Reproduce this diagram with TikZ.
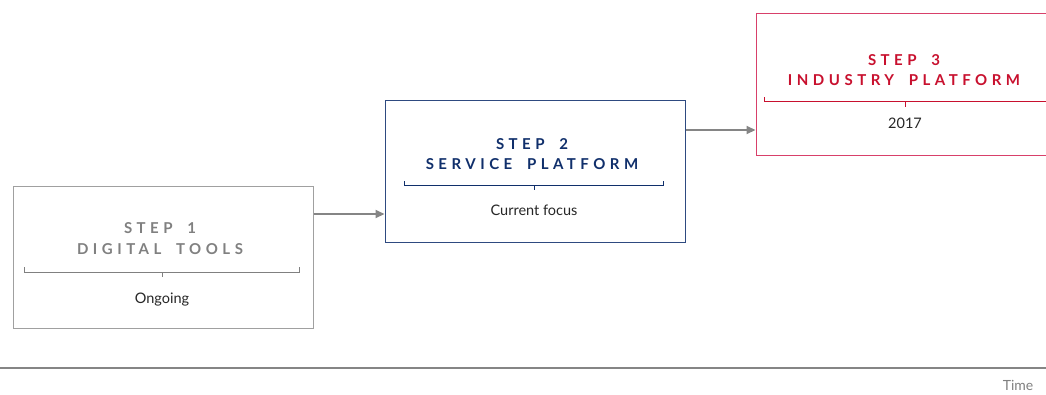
\documentclass[tikz,border=0pt]{standalone}
\usepackage{fontspec}
\setmainfont{Lato}
\newfontfamily\titlefont[LetterSpace=30,WordSpace=1.8]{Lato Bold}
\usetikzlibrary{arrows.meta}
\definecolor{gA}{HTML}{A0A0A0}
\definecolor{gT}{HTML}{808080}
\definecolor{nB}{HTML}{2E4A80}
\definecolor{nT}{HTML}{102F6B}
\definecolor{rB}{HTML}{D8406A}
\definecolor{rT}{HTML}{C8102E}
\definecolor{arr}{HTML}{858585}
\tikzset{
  stepbox/.style={line width=1.3pt, minimum width=300pt, minimum height=142pt, inner sep=0pt, anchor=north west},
  ttl/.style={anchor=base, inner sep=0pt, font=\titlefont\fontsize{15}{15}\selectfont},
  body/.style={anchor=base, inner sep=0pt, text=black!85, font=\fontsize{14.5}{15}\selectfont},
  brc/.style={line width=1.2pt},
  conn/.style={draw=arr, line width=2pt, -{Triangle[length=9pt,width=8pt]}},
}
\begin{document}
\begin{tikzpicture}[x=1pt,y=-1pt]
\useasboundingbox (0,0) rectangle (1046,394);
\clip (0,0) rectangle (1046,394);
% boxes
\node[stepbox, draw=gA] (b1) at (12.5,185.5) {};
\node[stepbox, draw=nB] (b2) at (384.5,99.5) {};
\node[stepbox, draw=rB] (b3) at (755.5,12.5) {};
% box 1
\node[ttl, text=gT] (t1a) at (160,233) {STEP 1};
\node[ttl, text=gT] (t1b) at (160,254) {DIGITAL TOOLS};
\draw[brc, draw=gT] (24.5,267) -- (24.5,272.5) -- (299.5,272.5) -- (299.5,267);
\draw[brc, draw=gT] (162.5,272.5) -- (162.5,277);
\node[body] (s1) at (162,303) {Ongoing};
% box 2
\node[ttl, text=nT] (t2a) at (532,149) {STEP 2};
\node[ttl, text=nT] (t2b) at (532,169) {SERVICE PLATFORM};
\draw[brc, draw=nT] (404.5,181) -- (404.5,185.5) -- (663.5,185.5) -- (663.5,181);
\draw[brc, draw=nT] (534.5,185.5) -- (534.5,190);
\node[body] (s2) at (534,215) {Current focus};
% box 3
\node[ttl, text=rT] (t3a) at (904,65) {STEP 3};
\node[ttl, text=rT] (t3b) at (904,85) {INDUSTRY PLATFORM};
\draw[brc, draw=rT] (764.5,97) -- (764.5,101.5) -- (1060,101.5);
\draw[brc, draw=rT] (905.5,101.5) -- (905.5,106.5);
\node[body] (s3) at (905,128) {2017};
% connectors
\draw[conn] (b1.east |- 0,214) -- (b2.west |- 0,214);
\draw[conn] (b2.east |- 0,130) -- (b3.west |- 0,130);
% time axis
\coordinate (ax0) at (0,368);
\coordinate (ax1) at (1046,368);
\draw[draw=arr, line width=2pt] (ax0) -- (ax1);
\node[anchor=base, inner sep=0pt, text=gT, font=\fontsize{14}{14}\selectfont] (time) at (1018,390) {Time};
\end{tikzpicture}
\end{document}
